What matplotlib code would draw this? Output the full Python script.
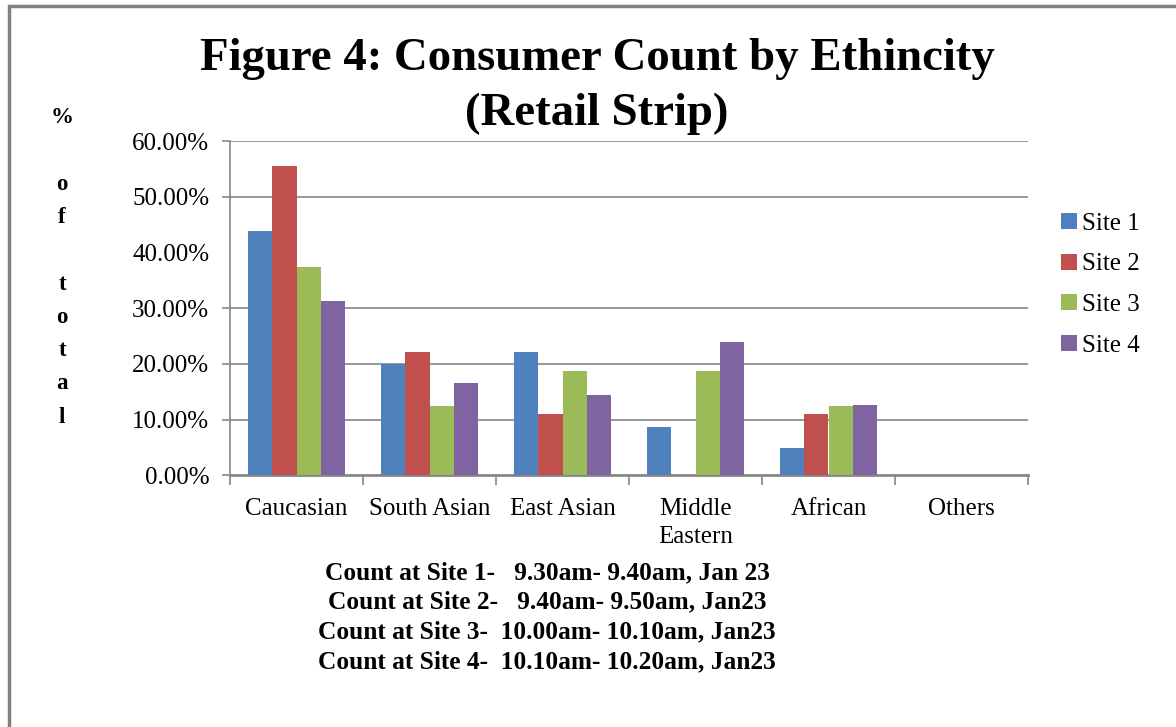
import numpy as np
import matplotlib
matplotlib.use("Agg")
import matplotlib.pyplot as plt
from matplotlib.patches import Rectangle

plt.rcParams['font.family'] = ['Liberation Serif', 'DejaVu Serif']

# share of consumers (%) per ethnic group, one list per site
categories = ['Caucasian', 'South Asian', 'East Asian', 'Middle\nEastern', 'African', 'Others']
site1 = [43.9, 20.0, 22.2, 8.7, 4.9, 0.0]
site2 = [55.6, 22.2, 11.1, 0.0, 11.1, 0.0]
site3 = [37.5, 12.5, 18.75, 18.75, 12.5, 0.0]
site4 = [31.3, 16.6, 14.4, 24.0, 12.6, 0.0]
site_names = ['Site 1', 'Site 2', 'Site 3', 'Site 4']
yticks = [0, 10, 20, 30, 40, 50, 60]
gridlines = [10, 20, 30, 50, 60]

count_notes = [
    'Count at Site 1-   9.30am- 9.40am, Jan 23',
    'Count at Site 2-   9.40am- 9.50am, Jan23',
    'Count at Site 3-  10.00am- 10.10am, Jan23',
    'Count at Site 4-  10.10am- 10.20am, Jan23',
]

colors = ['#4F81BD', '#C0504D', '#9BBB59', '#8064A2']
gray = '#868686'

W, H = 1176, 727
fig = plt.figure(figsize=(W / 100, H / 100), dpi=100)

# outer chart frame (runs off the right and bottom edges)
fig.patches.append(Rectangle((8.5 / W, -0.05), 1.2, 1 - 6 / H + 0.05,
                             transform=fig.transFigure, fill=False,
                             edgecolor='#808080', linewidth=2.5))

ax = fig.add_axes([230 / W, 1 - 475.3 / H, 798 / W, 334 / H])

x = np.arange(len(categories))
bw = 0.182
series = [site1, site2, site3, site4]
for i, (vals, name, c) in enumerate(zip(series, site_names, colors)):
    ax.bar(x + (i - 1.5) * bw, vals, bw, color=c, label=name, zorder=3)

for g in gridlines:
    ax.axhline(g, color=gray, linewidth=1.2, zorder=1)

ax.set_xlim(-0.5, len(categories) - 0.5)
ax.set_ylim(0, 60)

ax.set_yticks(yticks)
ax.set_yticklabels([f'{v:.2f}%' for v in yticks], fontsize=18)
ax.tick_params(axis='y', length=6, color=gray, width=1.2, pad=9)
# no tick mark next to the 40% label
for t, v in zip(ax.yaxis.get_major_ticks(), yticks):
    if v not in gridlines and v != 0:
        t.tick1line.set_visible(False)

ax.set_xticks(x)
ax.set_xticklabels(categories, fontsize=18, linespacing=1.4)
ax.set_xticks(np.arange(len(categories) + 1) - 0.5, minor=True)
ax.tick_params(axis='x', which='major', length=0, pad=16)
ax.tick_params(axis='x', which='minor', length=7, color=gray, width=1.2)

for side in ['top', 'right']:
    ax.spines[side].set_visible(False)
ax.spines['left'].set_color(gray)
ax.spines['left'].set_linewidth(1.2)
ax.spines['bottom'].set_color(gray)
ax.spines['bottom'].set_linewidth(2)

ax.legend(loc='upper left', bbox_to_anchor=(1061 / W, 1 - 213 / H),
          bbox_transform=fig.transFigure, frameon=False, fontsize=18,
          handlelength=0.65, handleheight=0.6, handletextpad=0.2,
          labelspacing=0.74, borderpad=0, borderaxespad=0)

fig.text(597 / W, 1 - 38 / H, 'Figure 4: Consumer Count by Ethincity\n(Retail Strip)',
         ha='center', va='top', fontsize=33.7, fontweight='bold', linespacing=1.4)

# vertical axis caption, one character per line
caption = ['%', '', 'o', 'f', '', 't', 'o', 't', 'a', 'l']
for i, ch in enumerate(caption):
    fig.text(62 / W, 1 - (123 + 33.3 * i) / H, ch, ha='center', va='baseline',
             fontsize=16.5, fontweight='bold')

for i, note in enumerate(count_notes):
    fig.text(547 / W, 1 - (579 + 29.7 * i) / H, note, ha='center', va='baseline',
             fontsize=18.3, fontweight='bold')

fig.savefig('out.png', dpi=100, facecolor='white')
